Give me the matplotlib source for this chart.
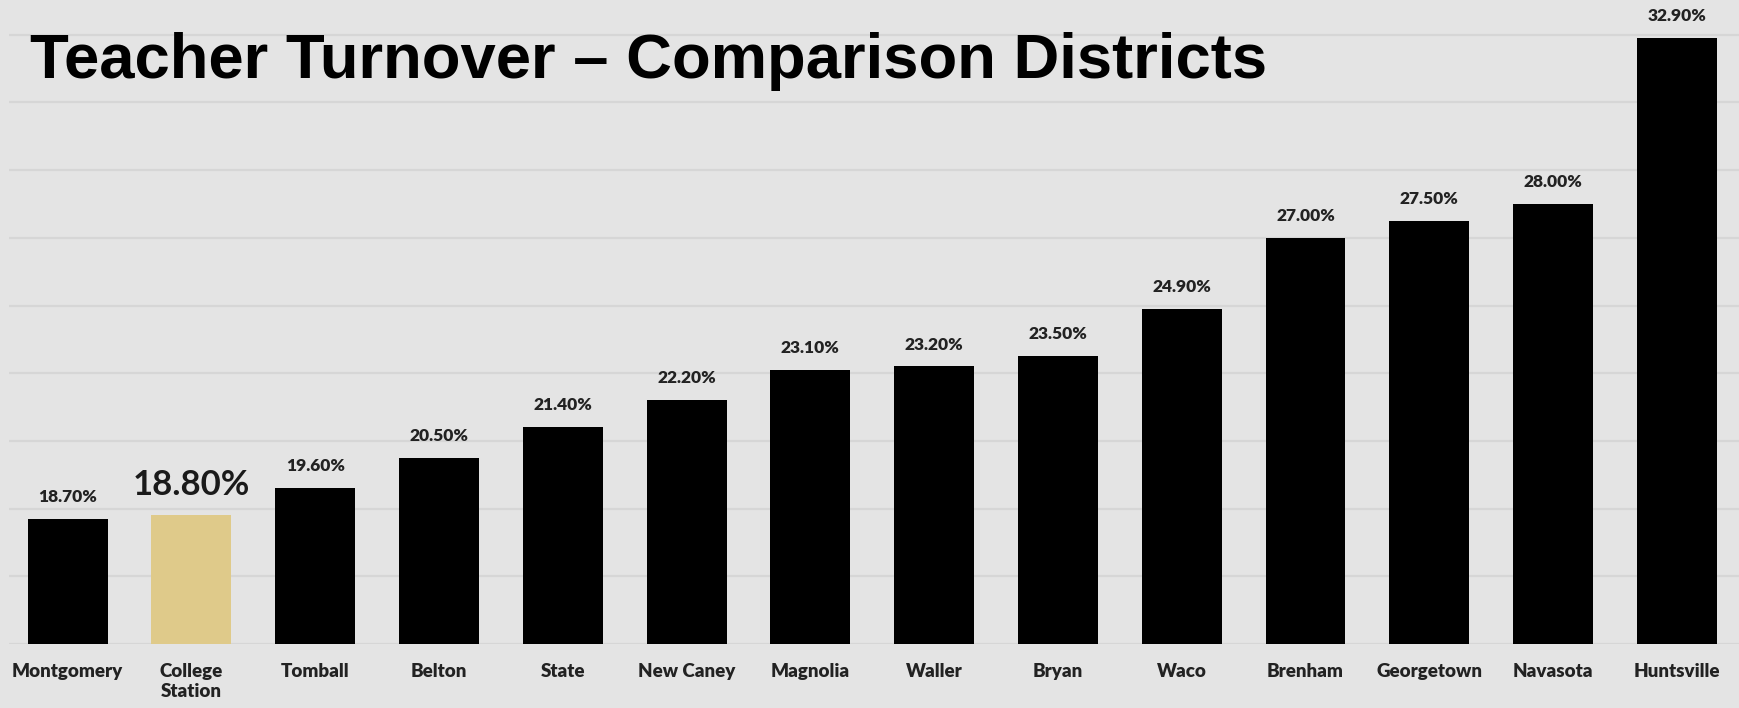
"""Teacher turnover bar chart for comparison districts"""

import matplotlib.pyplot as plt
import numpy as np

districts = ["Montgomery", "College\nStation", "Tomball", "Belton", "State",
             "New Caney", "Magnolia", "Waller", "Bryan", "Waco", "Brenham",
             "Georgetown", "Navasota", "Huntsville"]
turnover = [18.7, 18.8, 19.6, 20.5, 21.4, 22.2, 23.1, 23.2, 23.5, 24.9,
            27.0, 27.5, 28.0, 32.9]
highlight = "College\nStation"

BG = "#e4e4e4"
GOLD = "#dfca8a"
BAR = "#000000"
LABEL = "#222222"

fig = plt.figure(figsize=(17.4, 7.08), dpi=100, facecolor=BG)
ax = fig.add_axes([9 / 1740, 64 / 708, 1 - 9 / 1740, 644 / 708])
ax.set_facecolor(BG)

x = np.arange(len(districts))
colors = [GOLD if d == highlight else BAR for d in districts]
ax.bar(x, turnover, width=0.646, color=colors, bottom=0, zorder=3)

ax.set_ylim(15, 15 + 644 / 33.85)
ax.set_xlim(-0.474, 13.51)
ax.set_yticks(np.arange(15, 35, 2))
ax.yaxis.grid(True, color="#d6d6d6", linewidth=1.6, zorder=0)
ax.tick_params(axis="y", length=0, labelleft=False)
ax.tick_params(axis="x", length=0, pad=14)
for side in ax.spines.values():
    side.set_visible(False)

ax.set_xticks(x)
ax.set_xticklabels(districts, fontfamily="Lato", fontweight="heavy",
                   fontsize=13.5, color=LABEL, linespacing=1.2, va="top")

# value labels above each bar, the highlighted one larger
for xi, d, v in zip(x, districts, turnover):
    big = d == highlight
    ax.annotate(f"{v:.2f}%", (xi, v), xytext=(0, 10), textcoords="offset points",
                ha="center", va="bottom", fontfamily="Lato",
                fontweight="bold" if big else "heavy",
                fontsize=25 if big else 12.5, color="#1a1a1a" if big else LABEL)

fig.text(30 / 1740, 1 - 78 / 708, "Teacher Turnover \u2013 Comparison Districts",
         fontfamily="Liberation Sans", fontweight="bold", fontsize=45.6,
         color="black", va="baseline", ha="left")

plt.savefig("out.png", dpi=100, facecolor=BG)
plt.close()
